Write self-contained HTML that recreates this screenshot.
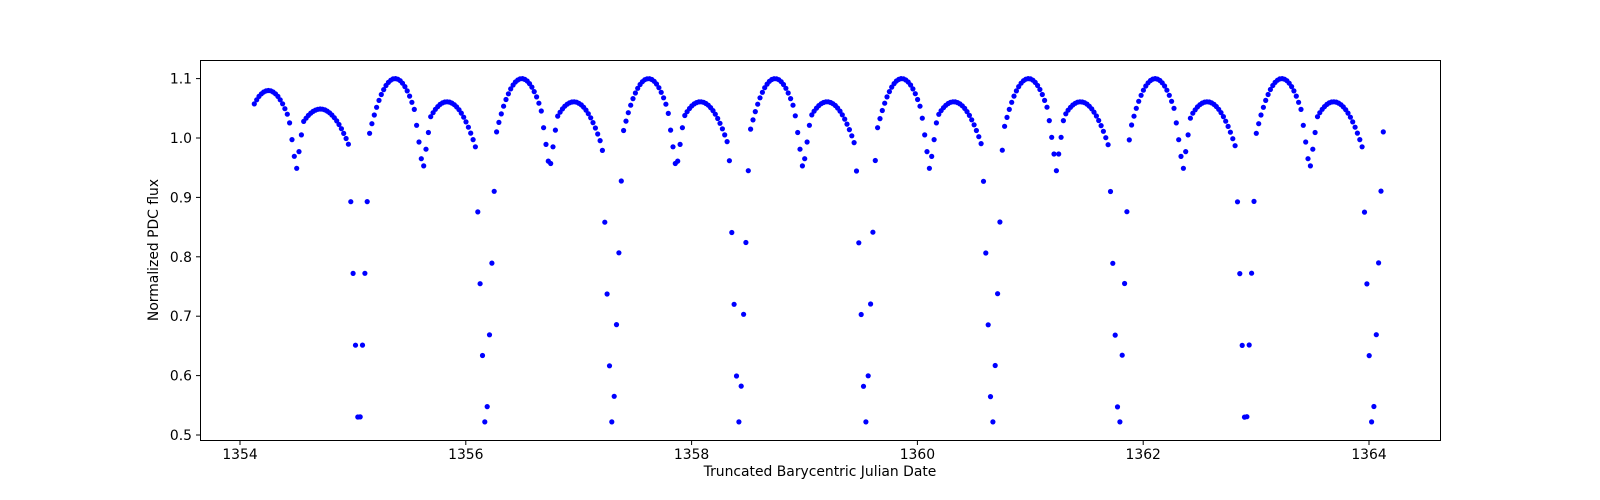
<!DOCTYPE html>
<html><head><meta charset="utf-8"><style>
html,body{margin:0;padding:0;background:#fff;overflow:hidden}
svg{display:block;font-family:"DejaVu Sans","Liberation Sans",sans-serif}
</style></head><body>
<svg id="s" width="1600" height="500" viewBox="0 0 1600 500" xmlns="http://www.w3.org/2000/svg">
<rect width="1600" height="500" fill="#fff"/>
<g id="pts" fill="#0000ff"></g>
<rect x="200.5" y="60.5" width="1240" height="380" fill="none" stroke="#000" stroke-width="1"/>
<g id="ax" font-size="13.9" fill="#000"></g>
<text x="820" y="476" font-size="13.9" text-anchor="middle">Truncated Barycentric Julian Date</text>
<text transform="translate(158,250) rotate(-90)" font-size="13.9" text-anchor="middle">Normalized PDC flux</text>
</svg>
<script>
var X=function(t){return 240+(t-1354)*112.9;};
var Y=function(f){return 435-(f-0.5)*594;};
var ax=document.getElementById('ax'),h='';
for(var t=1354;t<=1364;t+=2){var x=X(t);h+='<line x1="'+x+'" x2="'+x+'" y1="440.5" y2="445" stroke="#000"/><text x="'+x+'" y="459" text-anchor="middle">'+t+'</text>';}
for(var i=5;i<=11;i++){var f=i/10,y=Y(f);h+='<line x1="196" x2="200.5" y1="'+y+'" y2="'+y+'" stroke="#000"/><text x="192" y="'+(y+5)+'" text-anchor="end">'+f.toFixed(1)+'</text>';}
ax.innerHTML=h;
var P=1.122,T0=1355.054;
function model(t,amp){
 var d=((t-T0)%P+P)%P;
 var A=1.1-1.8*Math.pow(d-0.32,2);
 var B=1.061-1.2*Math.pow(d-0.78,2);
 var base=Math.max(A,B);
 base=1+(base-1)*amp;
 var sec=0.945+1.35*Math.abs(d-0.567);
 base=Math.min(base,sec);
 var e=Math.min(d,P-d);
 var V=Math.max(0.522,0.47+5.8*e);
 return Math.min(base,V);
}
var g='',c=0.020833;
var start=T0-0.0104-Math.ceil((T0-0.0104-1354.14)/c)*c;
for(var t=start;t<=1364.135;t+=c){
 var amp=t<1355?0.8:1;
 var f=model(t,amp);
 g+='<circle cx="'+X(t).toFixed(1)+'" cy="'+Y(f).toFixed(1)+'" r="2.6"/>';
}
document.getElementById('pts').innerHTML=g;
</script>
</body></html>
